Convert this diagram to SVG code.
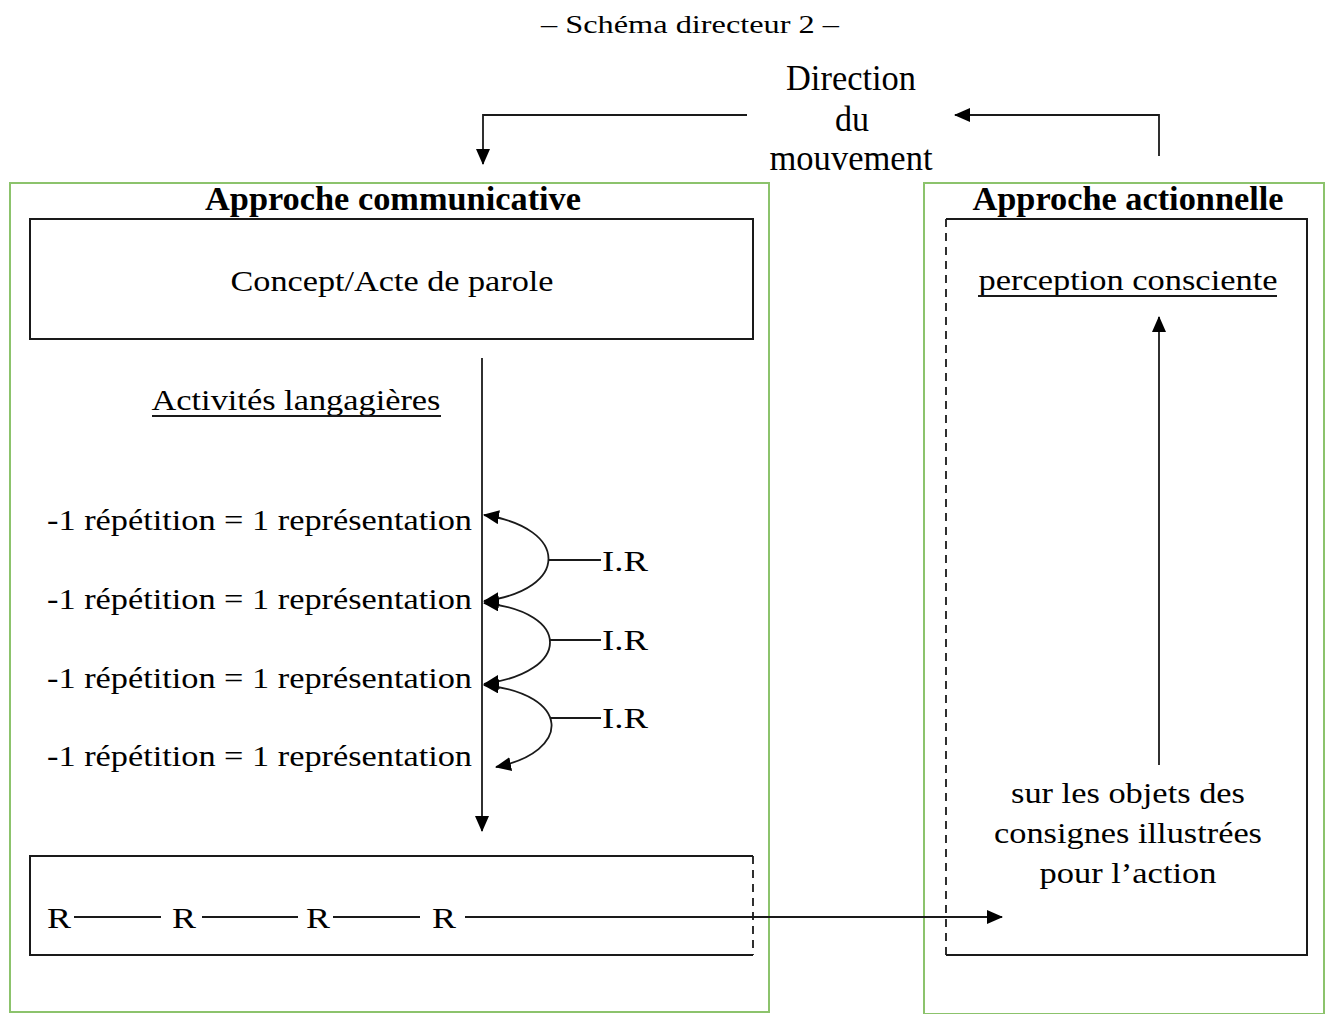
<svg xmlns="http://www.w3.org/2000/svg" width="1327" height="1014" viewBox="0 0 1327 1014">
<style>
text{font-family:"Liberation Serif","Times New Roman",serif;fill:#000;}
.t{font-size:30px;}
.b{font-size:33px;font-weight:bold;}
.c{text-anchor:middle;}
.green{fill:none;stroke:#8cc36c;stroke-width:2;}
.box{fill:none;stroke:#1a1a1a;stroke-width:2;}
.ln{fill:none;stroke:#1a1a1a;stroke-width:1.8;}
.dash{fill:none;stroke:#1a1a1a;stroke-width:1.8;stroke-dasharray:8,6;}
</style>
<defs>
<marker id="ah" viewBox="0 0 16 14" refX="15" refY="7" markerWidth="16" markerHeight="14" markerUnits="userSpaceOnUse" orient="auto-start-reverse">
<path d="M0,0 L16,7 L0,14 Z" fill="#000"/>
</marker>
</defs>
<rect width="1327" height="1014" fill="#fff"/>
<text x="690" y="33" font-size="25" class="c" textLength="298" lengthAdjust="spacingAndGlyphs">– Schéma directeur 2 –</text>
<g id="direction">
<text x="851" y="90" class="c" style="font-size:35px" textLength="130" lengthAdjust="spacingAndGlyphs">Direction</text>
<text x="852" y="131" class="c" style="font-size:35px" textLength="34" lengthAdjust="spacingAndGlyphs">du</text>
<text x="851" y="170" class="c" style="font-size:35px" textLength="163" lengthAdjust="spacingAndGlyphs">mouvement</text>
</g>
<g id="communicative">
<rect class="green" x="10" y="183" width="759" height="829"/>
<text x="393" y="210" class="b c" textLength="376" lengthAdjust="spacingAndGlyphs">Approche communicative</text>
</g>
<g id="concept">
<rect class="box" x="30" y="219" width="723" height="120"/>
<text x="392" y="291" class="t c" textLength="323" lengthAdjust="spacingAndGlyphs">Concept/Acte de parole</text>
</g>
<g id="activites">
<text x="296" y="410" class="t c" textLength="289" lengthAdjust="spacingAndGlyphs">Activités langagières</text>
<line class="ln" x1="152" y1="416" x2="441" y2="416" stroke-width="1.5"/>
</g>
<g id="repetitions">
<text x="47" y="530" class="t" textLength="425" lengthAdjust="spacingAndGlyphs">-1 répétition = 1 représentation</text>
<text x="47" y="609" class="t" textLength="425" lengthAdjust="spacingAndGlyphs">-1 répétition = 1 représentation</text>
<text x="47" y="688" class="t" textLength="425" lengthAdjust="spacingAndGlyphs">-1 répétition = 1 représentation</text>
<text x="47" y="766" class="t" textLength="425" lengthAdjust="spacingAndGlyphs">-1 répétition = 1 représentation</text>
</g>
<g id="ir-labels">
<text x="602" y="571" class="t" textLength="46" lengthAdjust="spacingAndGlyphs">I.R</text>
<text x="602" y="650" class="t" textLength="46" lengthAdjust="spacingAndGlyphs">I.R</text>
<text x="602" y="728" class="t" textLength="46" lengthAdjust="spacingAndGlyphs">I.R</text>
</g>
<g id="r-box">
<path class="box" d="M753,856 L30,856 L30,955 L753,955"/>
<path class="dash" d="M753,856 L753,955"/>
<text x="47" y="928" class="t" textLength="24" lengthAdjust="spacingAndGlyphs">R</text>
<text x="172" y="928" class="t" textLength="24" lengthAdjust="spacingAndGlyphs">R</text>
<text x="306" y="928" class="t" textLength="24" lengthAdjust="spacingAndGlyphs">R</text>
<text x="432" y="928" class="t" textLength="24" lengthAdjust="spacingAndGlyphs">R</text>
</g>
<g id="actionnelle">
<rect class="green" x="924" y="183" width="400" height="831"/>
<text x="1128" y="210" class="b c" textLength="311" lengthAdjust="spacingAndGlyphs">Approche actionnelle</text>
</g>
<g id="action-box">
<path class="box" d="M946,219 L1307,219 L1307,955 L946,955"/>
<path class="dash" d="M946,219 L946,955"/>
<text x="1128" y="290" class="t c" textLength="299" lengthAdjust="spacingAndGlyphs">perception consciente</text>
<line class="ln" x1="978" y1="296" x2="1277" y2="296" stroke-width="1.5"/>
<text x="1128" y="803" class="t c" textLength="234" lengthAdjust="spacingAndGlyphs">sur les objets des</text>
<text x="1128" y="843" class="t c" textLength="268" lengthAdjust="spacingAndGlyphs">consignes illustrées</text>
<text x="1128" y="883" class="t c" textLength="177" lengthAdjust="spacingAndGlyphs">pour l’action</text>
</g>
<g id="connectors">
<path class="ln" d="M747,115 L483,115 L483,164" marker-end="url(#ah)"/>
<path class="ln" d="M1159,156 L1159,115 L955,115" marker-end="url(#ah)"/>
<path class="ln" d="M482,358 L482,831" marker-end="url(#ah)"/>
<path class="ln" d="M484,515 C570,528 570,590 484,601" marker-start="url(#ah)" marker-end="url(#ah)"/>
<path class="ln" d="M484,603 C572,612 572,672 484,684" marker-start="url(#ah)" marker-end="url(#ah)"/>
<path class="ln" d="M484,685 C572,694 572,752 496,767" marker-start="url(#ah)" marker-end="url(#ah)"/>
<line class="ln" x1="549" y1="560" x2="601" y2="560"/>
<line class="ln" x1="550" y1="640" x2="601" y2="640"/>
<line class="ln" x1="550" y1="718" x2="601" y2="718"/>
<line class="ln" x1="74" y1="917" x2="161" y2="917"/>
<line class="ln" x1="202" y1="917" x2="298" y2="917"/>
<line class="ln" x1="333" y1="917" x2="420" y2="917"/>
<path class="ln" d="M465,917 L1002,917" marker-end="url(#ah)"/>
<path class="ln" d="M1159,765 L1159,317" marker-end="url(#ah)"/>
</g>
</svg>
